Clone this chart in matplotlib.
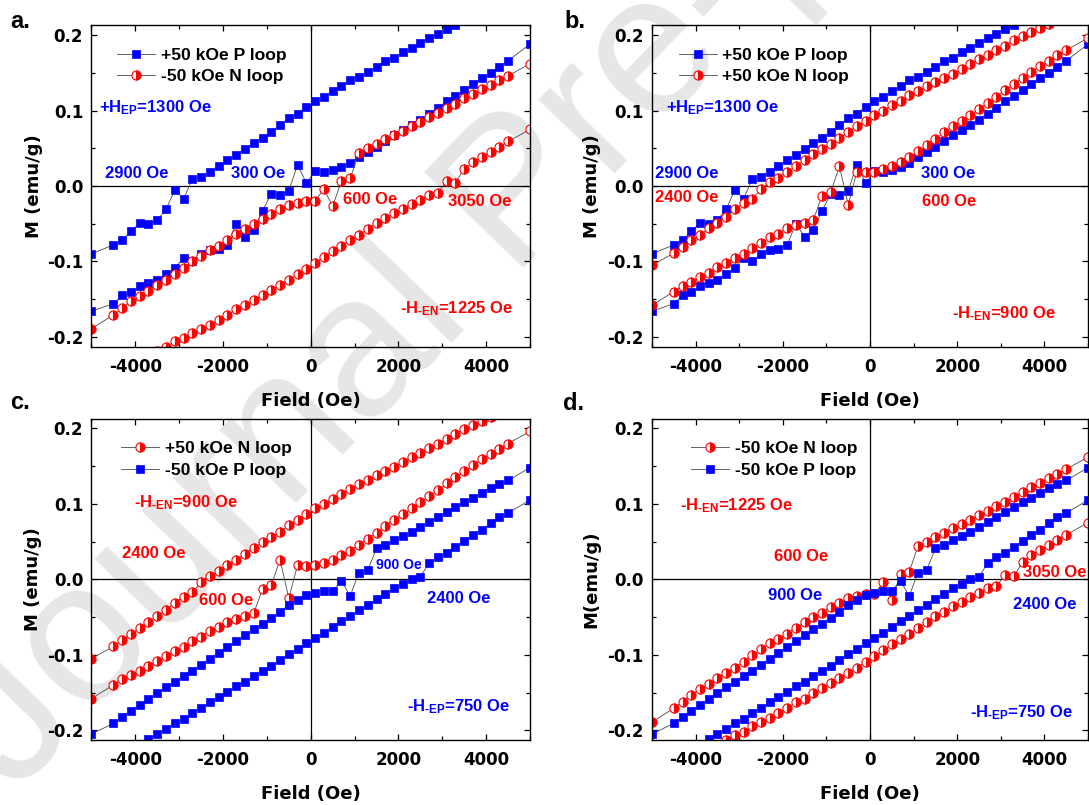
import matplotlib
matplotlib.use("Agg")
import matplotlib.pyplot as plt
from matplotlib.ticker import MultipleLocator, FormatStrFormatter

plt.rcParams["font.family"] = "DejaVu Sans"
plt.rcParams["font.weight"] = "bold"
plt.rcParams["axes.unicode_minus"] = False
plt.rcParams["mathtext.fontset"] = "custom"
plt.rcParams["mathtext.rm"] = "Liberation Sans:bold"
plt.rcParams["mathtext.it"] = "Liberation Sans:bold"
plt.rcParams["mathtext.bf"] = "Liberation Sans:bold"
plt.rcParams["mathtext.default"] = "rm"

# field steps of the measurement (Oe)
field = [-5000, -4500, -4300, -4100, -3900, -3700, -3500, -3300, -3100, -2900,
         -2700, -2500, -2300, -2100, -1900, -1700, -1500, -1300, -1100, -900, -700, -500, -300, -100,
         100, 300, 500, 700, 900, 1100, 1300, 1500, 1700, 1900, 2100, 2300, 2500, 2700, 2900, 3100,
         3300, 3500, 3700, 3900, 4100, 4300, 4500, 5000]

# +50 kOe P loop (blue squares)
posP_upper = [-0.090, -0.078, -0.072, -0.060, -0.049, -0.050, -0.045, -0.031, -0.005, -0.017,
              0.009, 0.012, 0.019, 0.027, 0.034, 0.041, 0.049, 0.057, 0.064, 0.072, 0.081, 0.090, 0.096, 0.105,
              0.112, 0.118, 0.126, 0.132, 0.140, 0.145, 0.151, 0.158, 0.165, 0.170, 0.177, 0.183, 0.190, 0.196,
              0.202, 0.208, 0.213, 0.220, 0.226, 0.232, 0.238, 0.244, 0.250, 0.262]
posP_lower = [-0.166, -0.156, -0.145, -0.141, -0.133, -0.128, -0.125, -0.117, -0.109, -0.095,
              -0.100, -0.090, -0.085, -0.083, -0.078, -0.050, -0.067, -0.058, -0.033, -0.010, -0.012, -0.006, 0.028, 0.004,
              0.020, 0.019, 0.021, 0.025, 0.031, 0.038, 0.045, 0.052, 0.060, 0.067, 0.074, 0.081, 0.088, 0.096,
              0.104, 0.112, 0.119, 0.127, 0.135, 0.143, 0.150, 0.158, 0.166, 0.188]

# -50 kOe N loop (red half circles)
negN_upper = [-0.189, -0.171, -0.162, -0.153, -0.146, -0.139, -0.131, -0.124, -0.117, -0.109,
              -0.100, -0.093, -0.085, -0.079, -0.072, -0.064, -0.057, -0.050, -0.044, -0.037, -0.031, -0.025, -0.022, -0.020,
              -0.020, -0.004, -0.027, 0.007, 0.010, 0.044, 0.050, 0.056, 0.062, 0.068, 0.073, 0.079, 0.085, 0.091,
              0.097, 0.103, 0.109, 0.116, 0.122, 0.128, 0.134, 0.140, 0.146, 0.162]
negN_lower = [-0.264, -0.249, -0.243, -0.237, -0.231, -0.225, -0.219, -0.213, -0.206, -0.202,
              -0.195, -0.189, -0.184, -0.177, -0.171, -0.163, -0.158, -0.151, -0.144, -0.138, -0.131, -0.124, -0.117, -0.110,
              -0.102, -0.094, -0.086, -0.079, -0.072, -0.065, -0.057, -0.049, -0.043, -0.036, -0.030, -0.024, -0.018, -0.012,
              -0.009, 0.006, 0.004, 0.023, 0.032, 0.039, 0.045, 0.052, 0.059, 0.075]

# +50 kOe N loop (red half circles)
posN_upper = [-0.105, -0.089, -0.081, -0.072, -0.065, -0.056, -0.049, -0.041, -0.031, -0.023,
              -0.017, -0.004, 0.005, 0.011, 0.019, 0.026, 0.034, 0.042, 0.049, 0.056, 0.063, 0.072, 0.079, 0.086,
              0.094, 0.100, 0.107, 0.113, 0.120, 0.126, 0.132, 0.138, 0.143, 0.149, 0.155, 0.162, 0.168, 0.174,
              0.180, 0.186, 0.193, 0.199, 0.204, 0.210, 0.215, 0.221, 0.227, 0.242]
posN_lower = [-0.158, -0.140, -0.132, -0.127, -0.121, -0.115, -0.108, -0.102, -0.095, -0.090,
              -0.082, -0.076, -0.068, -0.063, -0.056, -0.052, -0.049, -0.045, -0.013, -0.008, 0.026, -0.025, 0.019, 0.018,
              0.019, 0.022, 0.026, 0.032, 0.038, 0.046, 0.054, 0.062, 0.071, 0.079, 0.086, 0.094, 0.102, 0.110,
              0.118, 0.127, 0.135, 0.143, 0.151, 0.159, 0.166, 0.173, 0.180, 0.196]

# -50 kOe P loop (blue squares)
negP_upper = [-0.205, -0.191, -0.182, -0.174, -0.166, -0.159, -0.151, -0.143, -0.136, -0.128,
              -0.121, -0.113, -0.105, -0.097, -0.090, -0.082, -0.074, -0.066, -0.059, -0.051, -0.043, -0.034, -0.027, -0.021,
              -0.018, -0.015, -0.015, -0.002, -0.022, 0.009, 0.012, 0.041, 0.045, 0.052, 0.057, 0.063, 0.069, 0.076,
              0.083, 0.089, 0.096, 0.102, 0.108, 0.115, 0.121, 0.126, 0.131, 0.148]
negP_lower = [-0.258, -0.240, -0.233, -0.226, -0.219, -0.212, -0.205, -0.198, -0.191, -0.185,
              -0.177, -0.170, -0.163, -0.156, -0.149, -0.142, -0.136, -0.128, -0.121, -0.115, -0.107, -0.099, -0.093, -0.085,
              -0.078, -0.071, -0.063, -0.055, -0.049, -0.041, -0.034, -0.026, -0.019, -0.012, -0.006, 0.001, 0.003, 0.022,
              0.029, 0.035, 0.043, 0.051, 0.059, 0.066, 0.074, 0.082, 0.088, 0.105]

BLUE = "#0000ff"
RED = "#ff0000"
LINE = "#4a4a4a"
TEXT_FONT = "Liberation Sans"


def plotLoop(ax, upper, lower, kind, label):

    if kind == "P":
        style = dict(marker="s", markersize=5.6, markerfacecolor=BLUE, markeredgecolor=BLUE, markeredgewidth=0.5)
    else:
        style = dict(marker="o", markersize=6.6, fillstyle="right", markerfacecolor=RED,
                     markerfacecoloralt="white", markeredgecolor=RED, markeredgewidth=0.8)

    line, = ax.plot(field, upper, color=LINE, lw=0.6, label=label, **style)
    ax.plot(field, lower, color=LINE, lw=0.6, **style)

    return line


def styleAxes(ax, ylabel, ylabelX):

    ax.set_facecolor("none")
    ax.set_xlim(-5000, 5000)
    ax.set_ylim(-0.213, 0.213)
    ax.axhline(0, color="black", lw=0.9, zorder=1)
    ax.axvline(0, color="black", lw=0.9, zorder=1)

    ax.xaxis.set_major_locator(MultipleLocator(2000))
    ax.xaxis.set_minor_locator(MultipleLocator(1000))
    ax.yaxis.set_major_locator(MultipleLocator(0.1))
    ax.yaxis.set_minor_locator(MultipleLocator(0.05))
    ax.yaxis.set_major_formatter(FormatStrFormatter("%.1f"))

    ax.tick_params(which="both", direction="in", top=True, right=True, width=0.9, labelsize=12)
    ax.tick_params(which="major", length=4.5, pad=6)
    ax.tick_params(axis="x", which="major", pad=8)
    ax.tick_params(which="minor", length=3)
    for spine in ax.spines.values():
        spine.set_linewidth(1.0)

    ax.set_xlabel("Field (Oe)", fontsize=13, fontweight="bold")
    ax.set_ylabel(ylabel, fontsize=13, fontweight="bold")
    ax.xaxis.set_label_coords(0.5, -0.14)
    ax.yaxis.set_label_coords(ylabelX, 0.5)


def addNote(ax, x, y, text, color, size=12):

    ax.text(x, y, text, color=color, fontsize=size, fontfamily=TEXT_FONT, fontweight="bold",
            ha="left", va="center", zorder=5)


def addLegend(ax, handles, x):

    ax.legend(handles=handles, loc="upper left", bbox_to_anchor=(x, 0.93), frameon=False,
              prop={"family": TEXT_FONT, "weight": "bold", "size": 12.6},
              handlelength=2.2, handletextpad=0.3, labelspacing=0.35, borderpad=0, borderaxespad=0)


fig = plt.figure(figsize=(10.89, 8.05), dpi=100)

# Journal watermark behind the panels, anchored at its baseline start
fig.text(15 / 1089, 1 - 795 / 805, "Journal Pre-proof", fontsize=145, rotation=46, color="#e6e6e6",
         fontfamily=TEXT_FONT, fontweight="normal", ha="left", va="baseline",
         rotation_mode="anchor", zorder=-1)

axA = fig.add_axes([0.0840, 0.5693, 0.4027, 0.3993])
axB = fig.add_axes([0.5987, 0.5693, 0.4004, 0.3993])
axC = fig.add_axes([0.0840, 0.0807, 0.4027, 0.3993])
axD = fig.add_axes([0.5987, 0.0807, 0.4004, 0.3993])

### a.
h1 = plotLoop(axA, posP_upper, posP_lower, "P", "+50 kOe P loop")
h2 = plotLoop(axA, negN_upper, negN_lower, "N", "-50 kOe N loop")
styleAxes(axA, "M (emu/g)", -0.11)
addLegend(axA, [h1, h2], 0.058)
addNote(axA, -4830, 0.104, r"+H$_{\mathrm{EP}}$=1300 Oe", BLUE)
addNote(axA, -4690, 0.016, "2900 Oe", BLUE)
addNote(axA, -1810, 0.016, "300 Oe", BLUE)
addNote(axA, 730, -0.018, "600 Oe", RED)
addNote(axA, 3130, -0.021, "3050 Oe", RED)
addNote(axA, 2030, -0.163, r"-H$_{\text{-EN}}$=1225 Oe", RED)

### b.
h1 = plotLoop(axB, posP_upper, posP_lower, "P", "+50 kOe P loop")
h2 = plotLoop(axB, posN_upper, posN_lower, "N", "+50 kOe N loop")
styleAxes(axB, "M (emu/g)", -0.118)
addLegend(axB, [h1, h2], 0.061)
addNote(axB, -4670, 0.104, r"+H$_{\mathrm{EP}}$=1300 Oe", BLUE)
addNote(axB, -4930, 0.016, "2900 Oe", BLUE)
addNote(axB, -4930, -0.015, "2400 Oe", RED)
addNote(axB, 1180, 0.016, "300 Oe", BLUE)
addNote(axB, 1200, -0.021, "600 Oe", RED)
addNote(axB, 1890, -0.169, r"-H$_{\text{-EN}}$=900 Oe", RED)

### c.
h1 = plotLoop(axC, posN_upper, posN_lower, "N", "+50 kOe N loop")
h2 = plotLoop(axC, negP_upper, negP_lower, "P", "-50 kOe P loop")
styleAxes(axC, "M (emu/g)", -0.113)
addLegend(axC, [h1, h2], 0.067)
addNote(axC, -4030, 0.101, r"-H$_{\text{-EN}}$=900 Oe", RED)
addNote(axC, -4310, 0.034, "2400 Oe", RED)
addNote(axC, -2540, -0.028, "600 Oe", RED)
addNote(axC, 1480, 0.019, "900 Oe", BLUE, size=10)
addNote(axC, 2650, -0.026, "2400 Oe", BLUE)
addNote(axC, 2190, -0.169, r"-H$_{\text{-EP}}$=750 Oe", BLUE)

### d.
h1 = plotLoop(axD, negN_upper, negN_lower, "N", "-50 kOe N loop")
h2 = plotLoop(axD, negP_upper, negP_lower, "P", "-50 kOe P loop")
styleAxes(axD, "M(emu/g)", -0.118)
addLegend(axD, [h1, h2], 0.089)
addNote(axD, -4355, 0.097, r"-H$_{\text{-EN}}$=1225 Oe", RED)
addNote(axD, -2210, 0.030, "600 Oe", RED)
addNote(axD, -2350, -0.021, "900 Oe", BLUE)
addNote(axD, 3510, 0.009, "3050 Oe", RED)
addNote(axD, 3270, -0.033, "2400 Oe", BLUE)
addNote(axD, 2300, -0.177, r"-H$_{\text{-EP}}$=750 Oe", BLUE)

# panel letters
for letter, px, py in [("a.", 10, 28), ("b.", 564, 28), ("c.", 10, 409), ("d.", 563, 410)]:
    fig.text(px / 1089, 1 - py / 805, letter, fontsize=17, fontfamily=TEXT_FONT,
             fontweight="bold", ha="left", va="baseline")

fig.savefig("out.png", dpi=100)
